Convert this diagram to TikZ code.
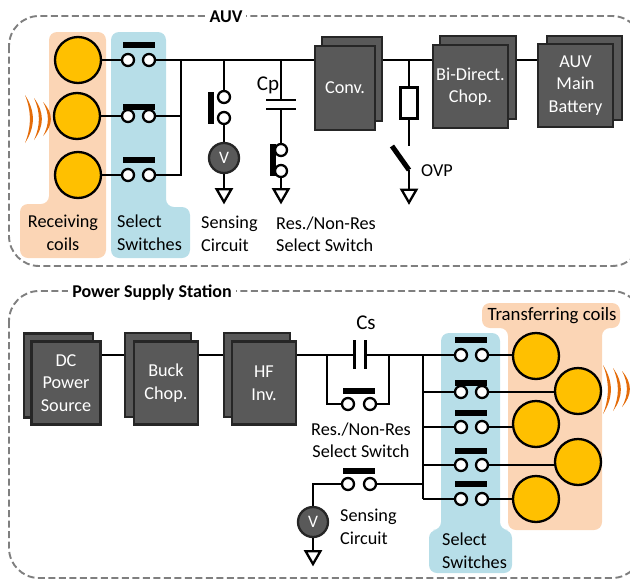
\documentclass[tikz,border=0pt]{standalone}
\usepackage{fontspec}
\setmainfont{Carlito}
\usetikzlibrary{shapes.geometric}
\definecolor{orangebg}{HTML}{FBD5B5}
\definecolor{bluebg}{HTML}{B7DEE8}
\definecolor{coilfill}{HTML}{FFC000}
\definecolor{boxfill}{HTML}{595959}
\definecolor{boxline}{HTML}{262626}
\definecolor{wavec}{HTML}{E46C0A}
\definecolor{dashc}{HTML}{7F7F7F}
\tikzset{
  panel/.style={draw=dashc,line width=1.9pt,dash pattern=on 7pt off 3.5pt,rounded corners=30pt},
  blob/.style={rounded corners=8pt},
  wire/.style={line width=2.3pt,black},
  coil/.style={circle,draw=black,line width=2.3pt,fill=coilfill,minimum size=46pt,inner sep=0pt},
  term/.style={circle,draw=black,line width=2.3pt,fill=white,minimum size=12pt,inner sep=0pt},
  hbar/.style={fill=black,minimum width=32pt,minimum height=5.5pt,inner sep=0pt},
  vbar/.style={fill=black,minimum width=5.5pt,minimum height=32pt,inner sep=0pt},
  gnd/.style={regular polygon,regular polygon sides=3,shape border rotate=180,draw=black,line width=2.3pt,fill=white,minimum size=17pt,inner sep=0pt},
  meter/.style={circle,draw=boxline,line width=2.3pt,fill=boxfill,minimum size=30pt,inner sep=0pt,text=white,font=\fontsize{17.5}{18}\selectfont},
  unit/.style={draw=boxline,line width=2.5pt,fill=boxfill,inner sep=0pt,text=white,align=center,font=\fontsize{18.2}{22.5}\selectfont},
  lab/.style={inner sep=0pt,align=left,text=black,font=\fontsize{18.2}{22.5}\selectfont},
  biglab/.style={inner sep=0pt,text=black,font=\fontsize{21}{24}\selectfont},
  ttl/.style={inner sep=4pt,fill=white,font=\bfseries\fontsize{18}{20}\selectfont},
  resistor/.style={draw=black,line width=2.3pt,fill=white,minimum width=17pt,minimum height=31pt,inner sep=0pt}
}
\newcommand{\crest}[3]{%
  \pgfmathsetmacro{\ya}{#2+(#3-#2)/3}%
  \pgfmathsetmacro{\yb}{#2+2*(#3-#2)/3}%
  \fill[wavec] (#1,#2) .. controls (#1+10.5,\ya) and (#1+10.5,\yb) .. (#1,#3)
     .. controls (#1+6.5,\yb) and (#1+6.5,\ya) .. (#1,#2) -- cycle;}
\begin{document}
\begin{tikzpicture}[x=1pt,y=-1pt]
\useasboundingbox (0,0) rectangle (630,579);
\clip (0,0) rectangle (630,579);
% panels
\draw[panel] (9,16) rectangle (642,266);
\draw[panel] (9,291) rectangle (642,578);
\node[ttl] (ttlauv) at (226,17) {AUV};
\node[ttl] (ttlpss) at (152,293) {Power Supply Station};
% backgrounds
\fill[orangebg,blob] (49,32) -- (106,32) -- (106,258) -- (20,258) -- (20,204) -- (49,204) -- cycle;
\fill[bluebg,blob] (111,32) -- (166,32) -- (166,207) -- (190,207) -- (190,258) -- (111,258) -- cycle;
\fill[orangebg,blob] (482,303) -- (620,303) -- (620,328) -- (602,328) -- (602,530) -- (508,530) -- (508,328) -- (482,328) -- cycle;
\fill[bluebg,blob] (441,333) -- (500,333) -- (500,530) -- (512,530) -- (512,573) -- (429,573) -- (429,530) -- (441,530) -- cycle;
% waves
\crest{25}{95}{143}\crest{34}{98}{140}\crest{43}{102}{136}
\crest{603}{365}{414}\crest{613}{368}{411}\crest{622}{371}{407}
% AUV coils and select switches
\node[coil] (ca1) at (78,60) {};
\node[coil] (ca2) at (77,116) {};
\node[coil] (ca3) at (78,175) {};
\foreach \n/\y/\by in {1/60/45,2/116/107,3/175/160}{
  \node[hbar] (ba\n) at (139,\by) {};
  \node[term] (ta\n) at (128,\y) {};
  \node[term] (ua\n) at (149,\y) {};
  \draw[wire] (ca\n) -- (ta\n);
}
% AUV units
\node[unit,minimum width=60pt,minimum height=84pt] (convb) at (352,79) {};
\node[unit,minimum width=60pt,minimum height=84pt] (conv) at (345,88) {Conv.};
\node[unit,minimum width=76pt,minimum height=83pt] (bidib) at (478,77.5) {};
\node[unit,minimum width=75pt,minimum height=83pt] (bidi) at (470.5,86.5) {Bi-Direct.\\Chop.};
\node[unit,minimum width=75pt,minimum height=84pt] (batb) at (584.5,78) {};
\node[unit,minimum width=75pt,minimum height=83pt] (bat) at (575.5,85.5) {AUV\\Main\\Battery};
% AUV bus
\coordinate (jsw) at (181,60);
\coordinate (jsen) at (224,60);
\coordinate (jcp) at (281,60);
\coordinate (jovp) at (409,60);
\draw[wire] (ua1) -- (conv.west |- ua1);
\draw[wire] (ua2) -- (ua2 -| jsw);
\draw[wire] (ua3) -- (ua3 -| jsw) -- (jsw);
\draw[wire] (convb.east |- jovp) -- (bidi.west |- jovp);
\draw[wire] (bidib.east |- jovp) -- (bat.west |- jovp);
% AUV sensing
\node[term] (ts1) at (224,97) {};
\node[term] (ts2) at (224,118) {};
\node[vbar] (bs) at (211,108) {};
\node[meter] (vs) at (224,158) {V};
\node[gnd] (gs) at (224,193.5) {};
\draw[wire] (jsen) -- (ts1);
\draw[wire] (ts2) -- (vs);
\draw[wire] (vs) -- (gs);
% Cp
\coordinate (cpa) at (281,100);
\coordinate (cpb) at (281,109);
\node[term] (tc1) at (281,150) {};
\node[term] (tc2) at (281,171) {};
\node[vbar] (bc) at (273,160) {};
\node[gnd] (gc) at (281,193.5) {};
\draw[wire] (jcp) -- (cpa);
\draw[wire] (266,100) -- (296,100);
\draw[wire] (266,109) -- (296,109);
\draw[wire] (cpb) -- (tc1);
\draw[wire] (tc2) -- (gc);
\node[biglab] (lcp) at (268,85) {Cp};
% OVP
\node[resistor] (rov) at (409,103) {};
\coordinate (ova) at (409,146);
\coordinate (ovb) at (409,170);
\node[gnd] (gov) at (409,194) {};
\draw[wire] (jovp) -- (rov);
\draw[wire] (rov) -- (ova);
\draw[line width=5pt] (392,146) -- (ovb);
\draw[wire] (ovb) -- (gov);
\node[lab,anchor=west] (lov) at (421,171) {OVP};
% AUV labels
\node[lab,align=center] (lrc) at (63,233) {Receiving\\coils};
\node[lab,anchor=west] (lss) at (117,232.5) {Select\\Switches};
\node[lab,anchor=west] (lsc) at (201,234) {Sensing\\Circuit};
\node[lab,anchor=west] (lrs) at (276,234) {Res./Non-Res\\Select Switch};
% Station units
\node[unit,minimum width=69pt,minimum height=84pt] (dcb) at (58.5,375.5) {};
\node[unit,minimum width=69pt,minimum height=83pt] (dc) at (66,383) {DC\\Power\\Source};
\node[unit,minimum width=66pt,minimum height=84pt] (buckb) at (158,375) {};
\node[unit,minimum width=64pt,minimum height=83pt] (buck) at (166,383) {Buck\\Chop.};
\node[unit,minimum width=66pt,minimum height=84pt] (hfb) at (257,375) {};
\node[unit,minimum width=64pt,minimum height=83pt] (hf) at (264,383) {HF\\Inv.};
\coordinate (jst) at (0,355);
\draw[wire] (dc.east |- jst) -- (buckb.west |- jst);
\draw[wire] (buck.east |- jst) -- (hfb.west |- jst);
% Station coils and switches
\coordinate (jbus) at (423,355);
\foreach \n/\y/\by/\cx/\cy in {1/355/340/536/356,2/392/383/578/391,3/427/413/536/424,4/465/451/578/462,5/499/484/536/499}{
  \node[coil] (cb\n) at (\cx,\cy) {};
  \node[hbar] (bb\n) at (471,\by) {};
  \node[term] (tb\n) at (461,\y) {};
  \node[term] (ub\n) at (482,\y) {};
  \draw[wire] (ub\n.east) -- (ub\n.east -| cb\n.west);
  \draw[wire] (tb\n.west) -- (tb\n.west -| jbus);
}
\draw[wire] (jbus) -- (jbus |- tb5);
% Cs and bypass switch
\coordinate (csa) at (354,355);
\coordinate (csb) at (365,355);
\coordinate (jl) at (327,355);
\coordinate (jr) at (389,355);
\draw[wire] (hf.east |- jst) -- (csa);
\draw[wire] (csb) -- (jbus);
\draw[line width=3pt] (354,340) -- (354,369);
\draw[line width=3pt] (365,340) -- (365,369);
\node[biglab] (lcs) at (366,323) {Cs};
\node[hbar] (bby) at (359,391) {};
\node[term] (tby) at (348,404) {};
\node[term] (uby) at (370,404) {};
\draw[wire] (jl) |- (tby);
\draw[wire] (jr) |- (uby);
\node[lab,align=center] (lrs2) at (361,440) {Res./Non-Res\\Select Switch};
% Station sensing
\node[hbar] (bse) at (359,471) {};
\node[term] (tse) at (348,484) {};
\node[term] (use) at (370,484) {};
\node[meter] (vse) at (313,522) {V};
\node[gnd] (gse) at (313,555.5) {};
\draw[wire] (use) -- (use -| jbus);
\draw[wire] (tse) -| (vse);
\draw[wire] (vse) -- (gse);
\node[lab,anchor=west] (lsc2) at (340,527) {Sensing\\Circuit};
\node[lab,anchor=west] (lss2) at (442,550.5) {Select\\Switches};
\node[lab,font=\fontsize{18.8}{22.5}\selectfont] (ltc) at (552,316) {Transferring coils};
\end{tikzpicture}
\end{document}
